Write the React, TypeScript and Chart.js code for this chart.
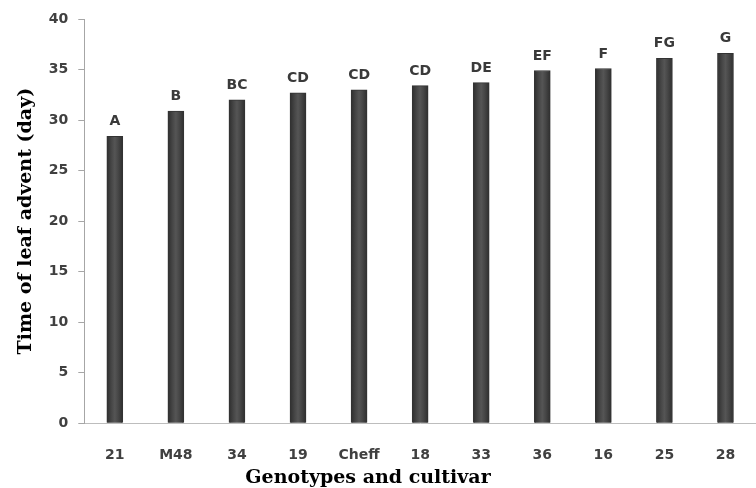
import React, { useEffect, useRef } from "react";
import { Chart, registerables } from "chart.js";

Chart.register(...registerables);

const categories = ["21", "M48", "34", "19", "Cheff", "18", "33", "36", "16", "25", "28"];
const values = [28.4, 30.9, 32.0, 32.7, 33.0, 33.4, 33.7, 34.9, 35.1, 36.1, 36.6];
const letters = ["A", "B", "BC", "CD", "CD", "CD", "DE", "EF", "F", "FG", "G"];
const yTicks = { min: 0, max: 40, step: 5 };
const xTitle = "Genotypes and cultivar";
const yTitle = "Time of leaf advent (day)";

const tickFont = { family: "'DejaVu Sans', sans-serif", size: 14, weight: "bold" as const };
const titleFont = { family: "'DejaVu Serif', serif", size: 19, weight: "bold" as const };

const letterPlugin = {
  id: "letterPlugin",
  afterDatasetsDraw(chart: any) {
    const ctx = chart.ctx;
    const meta = chart.getDatasetMeta(0);
    ctx.save();
    ctx.font = "bold 14px 'DejaVu Sans', sans-serif";
    ctx.fillStyle = "#3a3a3a";
    ctx.textAlign = "center";
    ctx.textBaseline = "alphabetic";
    meta.data.forEach((bar: any, i: number) => {
      ctx.fillText(letters[i], bar.x, bar.y - 11);
    });
    ctx.restore();
  },
};

const xTitlePlugin = {
  id: "xTitlePlugin",
  afterDraw(chart: any) {
    const ctx = chart.ctx;
    ctx.save();
    ctx.font = "bold 19px 'DejaVu Serif', serif";
    ctx.fillStyle = "#000";
    ctx.textAlign = "center";
    ctx.textBaseline = "alphabetic";
    ctx.fillText(xTitle, chart.width / 2 - 10, chart.height - 5);
    ctx.restore();
  },
};

function barFill(context: any) {
  const chart = context.chart;
  const xs = chart.scales && chart.scales.x;
  if (!xs || context.dataIndex === undefined) return "#474747";
  const cx = xs.getPixelForValue(context.dataIndex);
  if (!isFinite(cx)) return "#474747";
  const g = chart.ctx.createLinearGradient(cx - 8, 0, cx + 8, 0);
  g.addColorStop(0, "#2e2e2e");
  g.addColorStop(0.3, "#474747");
  g.addColorStop(0.5, "#555555");
  g.addColorStop(0.7, "#474747");
  g.addColorStop(1, "#2e2e2e");
  return g;
}

export default function App() {
  const ref = useRef<HTMLCanvasElement>(null);
  useEffect(() => {
    document.body.style.margin = "0";
    const chart = new Chart(ref.current!, {
      type: "bar",
      data: {
        labels: categories,
        datasets: [
          {
            data: values,
            backgroundColor: barFill,
            borderColor: "#333333",
            borderWidth: 1,
            barThickness: 16,
          },
        ],
      },
      options: {
        responsive: false,
        animation: false,
        layout: { padding: { top: 19, left: 15, right: -5, bottom: 8 } },
        plugins: { legend: { display: false }, tooltip: { enabled: false } },
        scales: {
          x: {
            grid: { display: false },
            border: { display: true, color: "#bdbdbd", width: 1 },
            ticks: { color: "#404040", font: tickFont, padding: 16 },
          },
          y: {
            min: yTicks.min,
            max: yTicks.max,
            afterFit(scale: any) {
              scale.paddingTop = 0;
            },
            ticks: { stepSize: yTicks.step, color: "#404040", font: tickFont, padding: 10 },
            grid: { drawOnChartArea: false, drawTicks: true, tickLength: 6, color: "#a6a6a6" },
            border: { display: true, color: "#a6a6a6", width: 1 },
            title: {
              display: true,
              text: yTitle,
              color: "#000",
              font: titleFont,
              padding: { top: 0, bottom: 1 },
            },
          },
        },
      },
      plugins: [letterPlugin, xTitlePlugin],
    });
    return () => chart.destroy();
  }, []);
  return (
    <div style={{ position: "absolute", left: 0, top: 0, width: 756, height: 488 }}>
      <canvas ref={ref} width={756} height={488} />
    </div>
  );
}
